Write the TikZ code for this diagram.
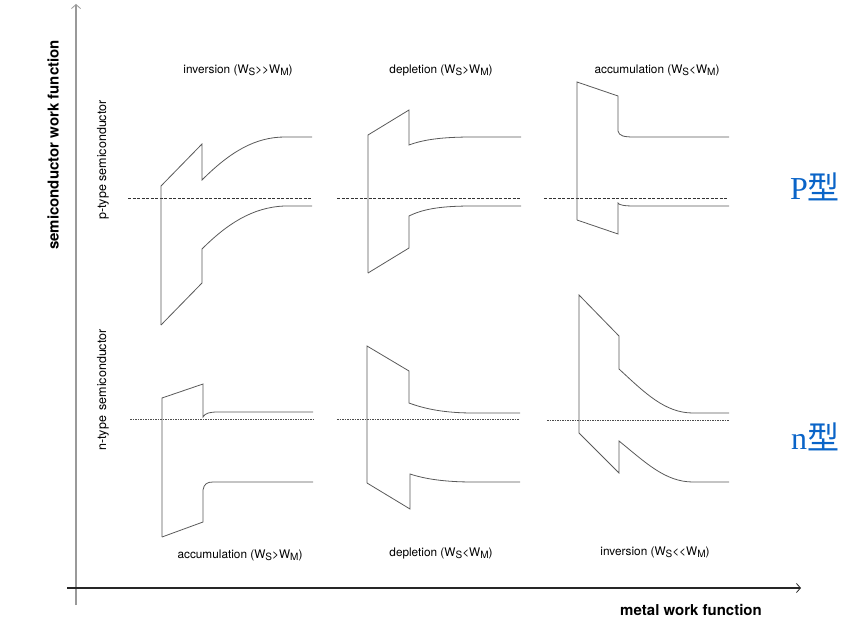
\documentclass[tikz,border=0pt]{standalone}
\usepackage{fontspec}
\setmainfont{TeX Gyre Heros}
\newfontfamily\latserif{Liberation Serif}
\newfontfamily\cjk{Noto Sans CJK SC}
\usetikzlibrary{positioning,arrows.meta}
\definecolor{typeblue}{RGB}{10,100,200}
\newcommand{\wsub}[1]{W\raisebox{-.35ex}{\scalebox{.85}{#1}}}

\begin{document}
\begin{tikzpicture}[x=1pt, y=-1pt,
    band/.style={draw=black!65, line width=.8pt, line join=miter},
    fermip/.style={draw=black!80, line width=.6pt, dash pattern=on 3pt off 1.5pt},
    fermin/.style={draw=black!70, line width=.6pt, dash pattern=on 1.5pt off 1pt},
    axis/.style={line width=1.2pt, -{Straight Barb[length=4pt,width=9pt,line width=.8pt]}},
    lbl/.style={font=\fontsize{11.8}{13}\selectfont, inner sep=1pt},
    side/.style={font=\fontsize{12.5}{14}\selectfont, rotate=90},
    ttl/.style={font=\fontsize{15}{17}\selectfont\bfseries},
    kind/.style={font=\fontsize{32}{34}\selectfont, text=typeblue}]
    \useasboundingbox (0,0) rectangle (850,620);

    % axes
    \coordinate (y0) at (76,605);
    \coordinate (y1) at (76,4);
    \coordinate (x0) at (67,588);
    \coordinate (x1) at (801,588);
    \draw[axis, draw=black!40] (y0) -- (y1);
    \draw[axis, draw=black!85] (x0) -- (x1);
    \node[ttl, rotate=90] (ylabel) at (53,145) {semiconductor work function};
    \node[ttl] (xlabel) at (691,610) {metal work function};
    \node[side] (ptype) at (103,160) {p-type semiconductor};
    \node[side] (ntype) at (103,390) {n-type \,semiconductor};

    % p-type, top row
    \node[lbl] (pinv) at (238,70) {inversion (\wsub{S}>{}>\wsub{M})};
    \node[lbl] (pdep) at (441,70) {depletion (\wsub{S}>\wsub{M})};
    \node[lbl] (pacc) at (657,70) {accumulation (\wsub{S}<\wsub{M})};

    \draw[fermip] (128,198) -- (312,198);
    \draw[band] (161,325) -- (161,186) -- (202,144) -- (202,180)
        .. controls (230,152) and (255,137) .. (285,137) -- (312,137);
    \draw[band] (161,325) -- (202,283) -- (202,249)
        .. controls (226,225) and (252,207) .. (285,206) -- (312,206);

    \draw[fermip] (337,198) -- (520,198);
    \draw[band] (368,273) -- (368,135) -- (409,110) -- (409,145)
        .. controls (425,139) and (445,137) .. (473,137) -- (521,137);
    \draw[band] (368,273) -- (409,248) -- (409,216)
        .. controls (425,208) and (445,206) .. (473,206) -- (521,206);

    \draw[fermip] (544,198) -- (727,198);
    \draw[band] (577,220) -- (577,82) -- (618,96) -- (618,131)
        .. controls (619,136) and (624,137) .. (634,137) -- (729,137);
    \draw[band] (577,220) -- (618,234) -- (618,203)
        .. controls (619,205) and (624,206) .. (634,206) -- (729,206);

    % n-type, bottom row
    \node[lbl] (nacc) at (240,555) {accumulation (\wsub{S}>\wsub{M})};
    \node[lbl] (ndep) at (441,553) {depletion (\wsub{S}<\wsub{M})};
    \node[lbl] (ninv) at (655,552) {inversion (\wsub{S}<{}<\wsub{M})};

    \draw[fermin] (130,419) -- (313,419);
    \draw[band] (162,537) -- (162,398) -- (203,384) -- (203,417)
        .. controls (205,413) and (210,412) .. (218,412) -- (313,412);
    \draw[band] (162,537) -- (203,522) -- (203,490)
        .. controls (204,484) and (207,482) .. (213,482) -- (313,482);

    \draw[fermin] (337,419) -- (519,419);
    \draw[band] (367,483) -- (367,346) -- (409,371) -- (409,403)
        .. controls (425,409) and (445,413) .. (473,413) -- (520,413);
    \draw[band] (367,483) -- (410,509) -- (410,474)
        .. controls (425,479) and (445,482) .. (473,482) -- (520,482);

    \draw[fermin] (547,420) -- (729,420);
    \draw[band] (579,433) -- (579,295) -- (619,336) -- (619,369)
        .. controls (645,393) and (665,413) .. (693,413) -- (729,413);
    \draw[band] (579,433) -- (619,473) -- (619,441)
        .. controls (645,462) and (665,482) .. (693,482) -- (729,482);

    % doping type
    \node[kind] (pkind) at (815,187) {{\latserif P}{\cjk 型}};
    \node[kind] (nkind) at (815,437) {{\latserif n}{\cjk 型}};
\end{tikzpicture}
\end{document}
